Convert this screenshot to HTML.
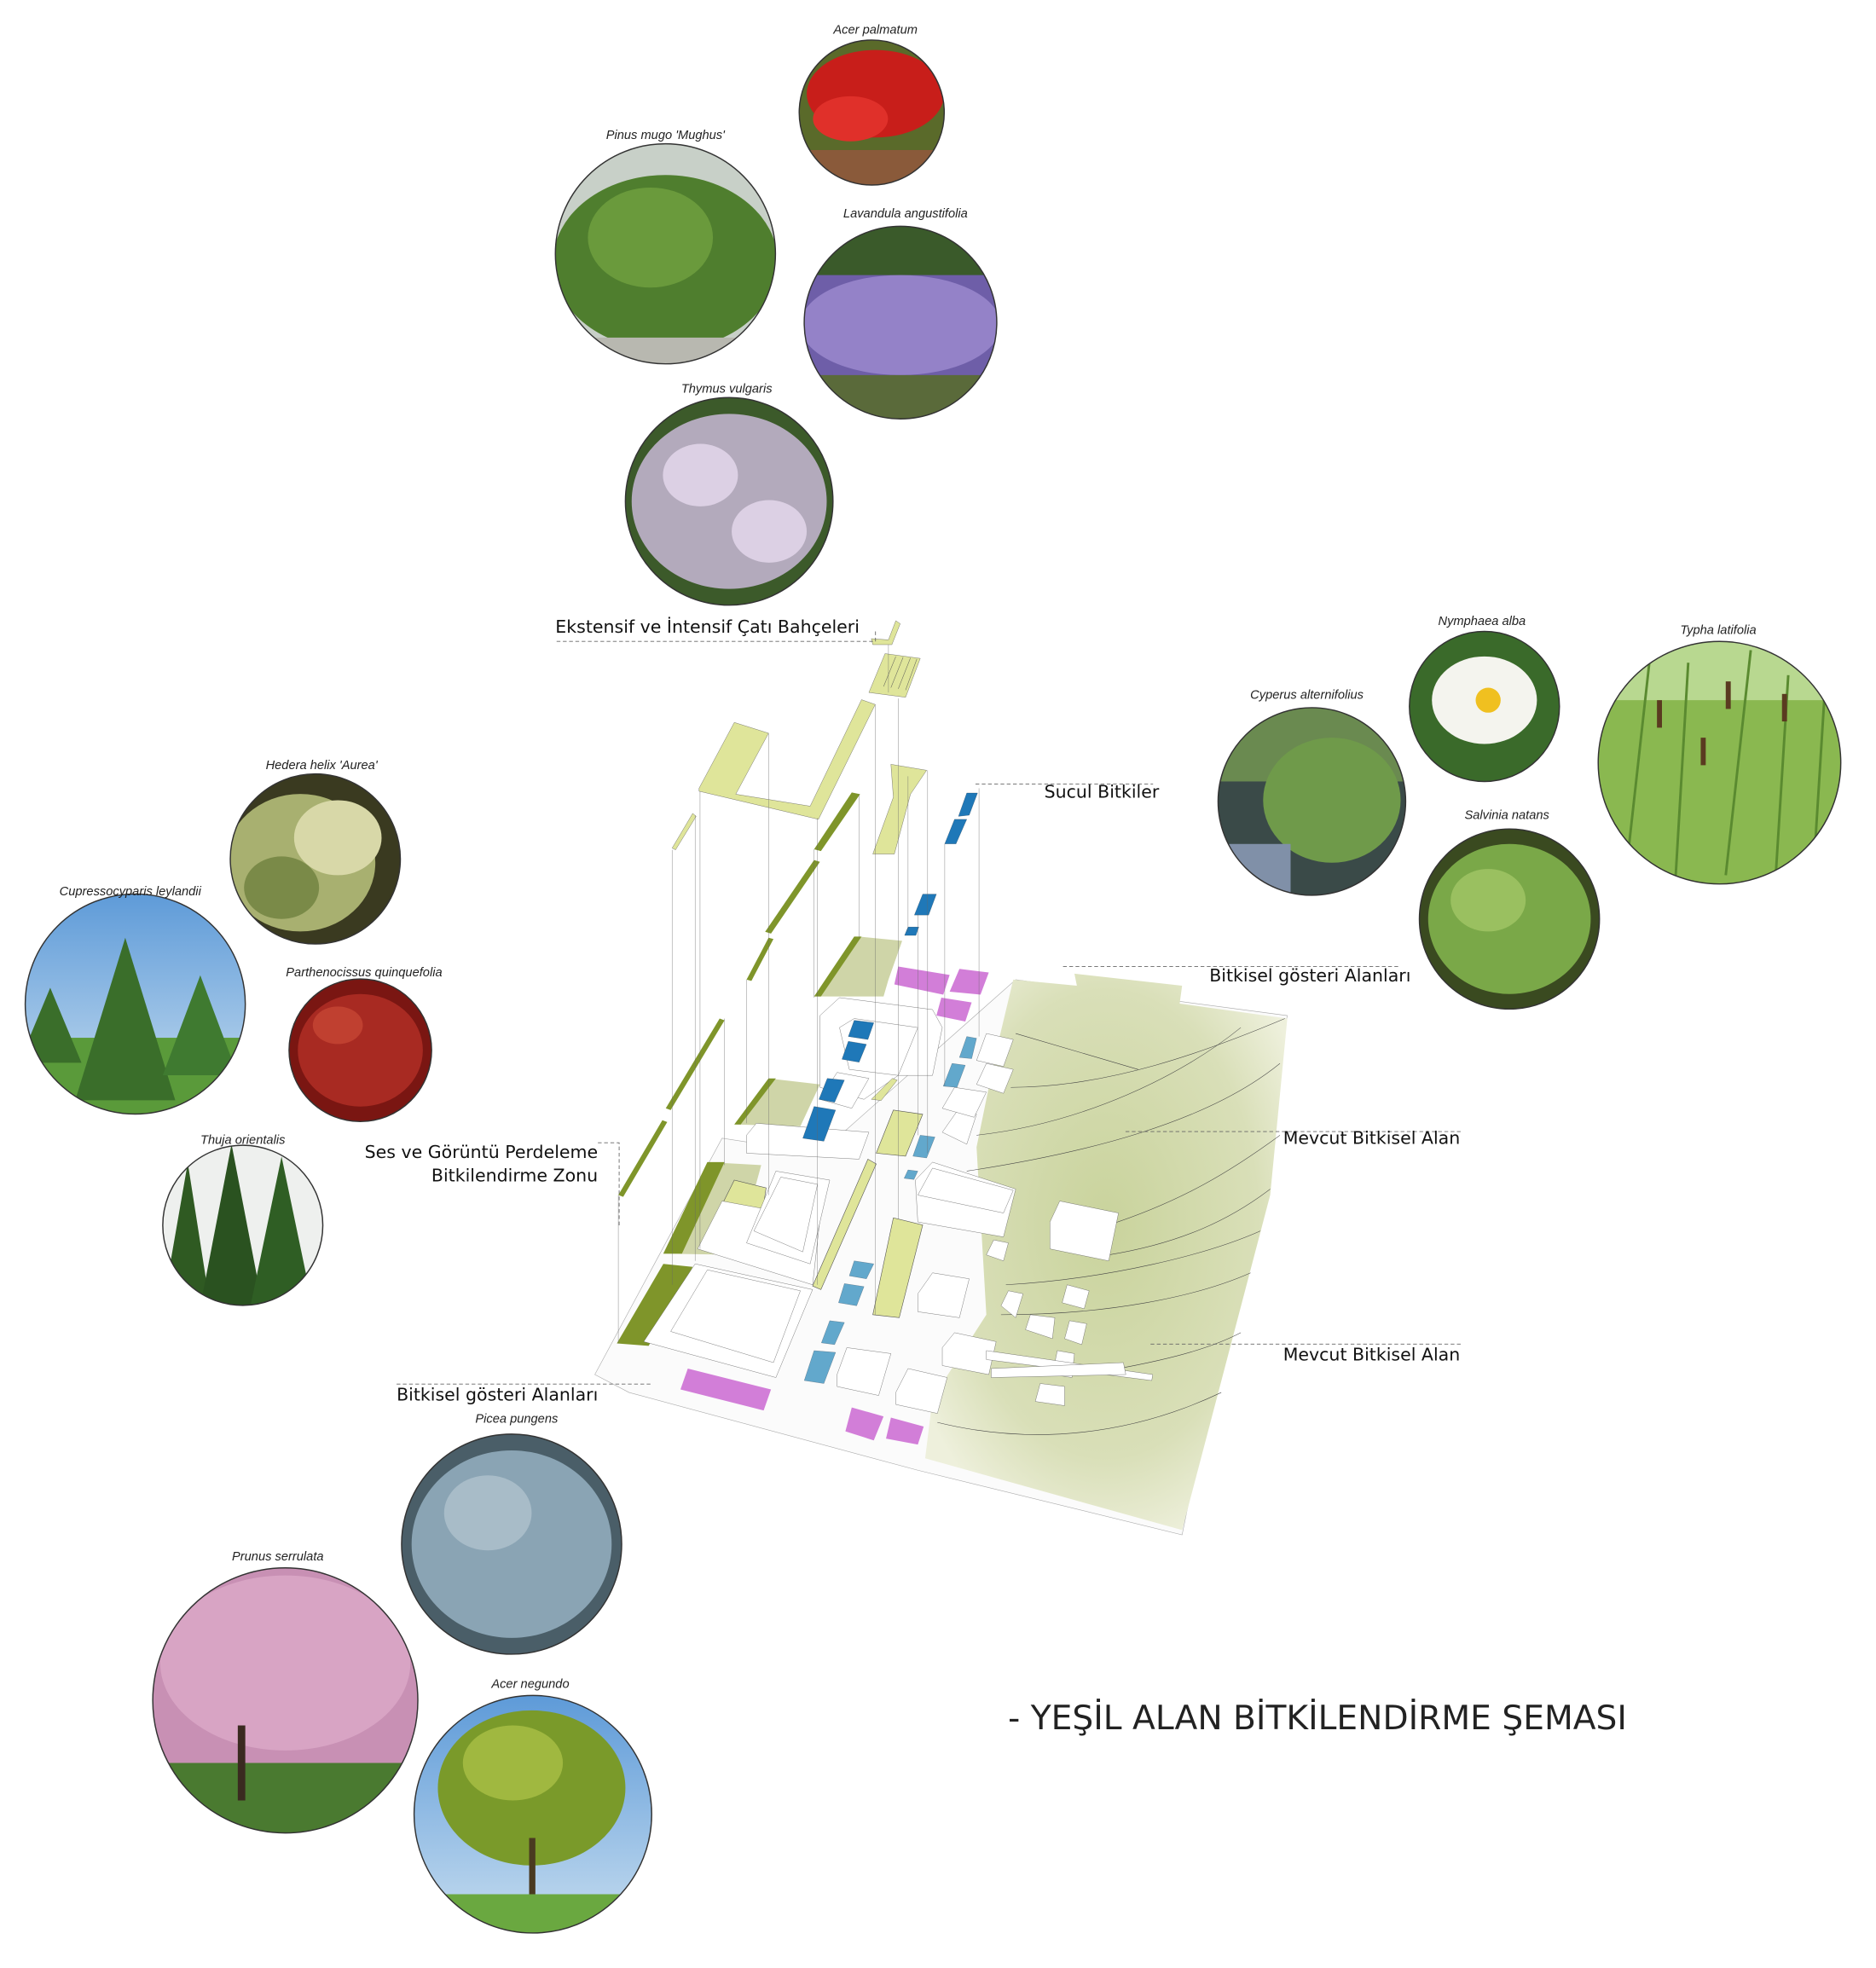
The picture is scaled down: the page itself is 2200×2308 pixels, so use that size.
<!DOCTYPE html>
<html><head><meta charset="utf-8"><style>
html,body{margin:0;padding:0;background:#fff}
svg{display:block}
.lbl{font-family:"Liberation Sans",sans-serif;font-style:italic;font-size:10px;fill:#222;text-anchor:middle}
.big{font-family:"DejaVu Sans","Liberation Sans",sans-serif;font-size:14px;fill:#111}
.d{stroke:#666;stroke-width:0.6;stroke-dasharray:3 2;fill:none}
.w{fill:#fff;stroke:#555;stroke-width:0.6}
</style></head><body>
<svg width="2200" height="2308" viewBox="0 0 1500 1574" xmlns="http://www.w3.org/2000/svg">
<defs>
<radialGradient id="gg" cx="0.5" cy="0.45" r="0.6"><stop offset="0" stop-color="#c9d39c"/><stop offset="0.7" stop-color="#d9dfb8"/><stop offset="1" stop-color="#eef0dc"/></radialGradient>
<linearGradient id="sky" x1="0" y1="0" x2="0" y2="1"><stop offset="0" stop-color="#5d9ad8"/><stop offset="1" stop-color="#c8def0"/></linearGradient>
<clipPath id="c1"><circle cx="697" cy="90" r="58"/></clipPath>
<clipPath id="c2"><circle cx="532" cy="203" r="88"/></clipPath>
<clipPath id="c3"><circle cx="720" cy="258" r="77"/></clipPath>
<clipPath id="c4"><circle cx="583" cy="401" r="83"/></clipPath>
<clipPath id="c5"><circle cx="252" cy="687" r="68"/></clipPath>
<clipPath id="c6"><circle cx="108" cy="803" r="88"/></clipPath>
<clipPath id="c7"><circle cx="288" cy="840" r="57"/></clipPath>
<clipPath id="c8"><circle cx="194" cy="980" r="64"/></clipPath>
<clipPath id="c9"><circle cx="1049" cy="641" r="75"/></clipPath>
<clipPath id="c10"><circle cx="1187" cy="565" r="60"/></clipPath>
<clipPath id="c11"><circle cx="1375" cy="610" r="97"/></clipPath>
<clipPath id="c12"><circle cx="1207" cy="735" r="72"/></clipPath>
<clipPath id="c13"><circle cx="409" cy="1235" r="88"/></clipPath>
<clipPath id="c14"><circle cx="228" cy="1360" r="106"/></clipPath>
<clipPath id="c15"><circle cx="426" cy="1451" r="95"/></clipPath>
</defs>

<!-- Plant circles -->
<g clip-path="url(#c1)"><rect x="630" y="30" width="140" height="130" fill="#5a6a2a"/><ellipse cx="700" cy="75" rx="55" ry="35" fill="#c81e1a"/><ellipse cx="680" cy="95" rx="30" ry="18" fill="#e0302a"/><rect x="630" y="120" width="140" height="30" fill="#8a5a3a"/></g>
<g clip-path="url(#c2)"><rect x="440" y="110" width="190" height="190" fill="#c8d0c8"/><ellipse cx="532" cy="210" rx="90" ry="70" fill="#4f7e2e"/><ellipse cx="520" cy="190" rx="50" ry="40" fill="#6a9a3c"/><rect x="440" y="270" width="190" height="30" fill="#b8b8b0"/></g>
<g clip-path="url(#c3)"><rect x="640" y="180" width="160" height="160" fill="#6e5ea8"/><rect x="640" y="180" width="160" height="40" fill="#3a5a2a"/><ellipse cx="720" cy="260" rx="80" ry="40" fill="#9482c8"/><rect x="640" y="300" width="160" height="40" fill="#5a6a3a"/></g>
<g clip-path="url(#c4)"><rect x="495" y="315" width="175" height="175" fill="#3c5a2a"/><ellipse cx="583" cy="401" rx="78" ry="70" fill="#c8b8d6" opacity="0.85"/><ellipse cx="560" cy="380" rx="30" ry="25" fill="#dcd0e4"/><ellipse cx="615" cy="425" rx="30" ry="25" fill="#dcd0e4"/></g>
<g clip-path="url(#c5)"><rect x="180" y="615" width="145" height="145" fill="#3a3a20"/><ellipse cx="240" cy="690" rx="60" ry="55" fill="#a8b070"/><ellipse cx="270" cy="670" rx="35" ry="30" fill="#d8d8a8"/><ellipse cx="225" cy="710" rx="30" ry="25" fill="#7a8a48"/></g>
<g clip-path="url(#c6)"><rect x="18" y="713" width="180" height="180" fill="url(#sky)"/><rect x="18" y="830" width="180" height="70" fill="#5a9a3a"/><polygon points="100,750 140,880 60,880" fill="#3a6e2a"/><polygon points="40,790 65,850 15,850" fill="#3a6e2a"/><polygon points="160,780 190,860 130,860" fill="#3f7a30"/></g>
<g clip-path="url(#c7)"><rect x="228" y="780" width="120" height="120" fill="#7a1612"/><ellipse cx="288" cy="840" rx="50" ry="45" fill="#a82a22"/><ellipse cx="270" cy="820" rx="20" ry="15" fill="#c04030"/></g>
<g clip-path="url(#c8)"><rect x="128" y="914" width="132" height="132" fill="#eef0ee"/><polygon points="150,930 168,1045 130,1045" fill="#2f5a22"/><polygon points="185,915 210,1045 160,1045" fill="#2a5220"/><polygon points="225,925 250,1045 200,1045" fill="#2f5e24"/></g>
<g clip-path="url(#c9)"><rect x="972" y="565" width="155" height="155" fill="#3a4a48"/><rect x="972" y="565" width="155" height="60" fill="#6a8a50"/><ellipse cx="1065" cy="640" rx="55" ry="50" fill="#6f9a4a"/><rect x="972" y="675" width="60" height="45" fill="#8090a8"/></g>
<g clip-path="url(#c10)"><rect x="1125" y="503" width="125" height="125" fill="#3a6a2a"/><ellipse cx="1187" cy="560" rx="42" ry="35" fill="#f4f4ee"/><circle cx="1190" cy="560" r="10" fill="#f0c020"/></g>
<g clip-path="url(#c11)"><rect x="1275" y="510" width="200" height="200" fill="#8ab850"/><rect x="1275" y="510" width="200" height="50" fill="#b8d890"/><g stroke="#5a8a30" stroke-width="2"><line x1="1300" y1="700" x2="1320" y2="520"/><line x1="1340" y1="700" x2="1350" y2="530"/><line x1="1380" y1="700" x2="1400" y2="520"/><line x1="1420" y1="700" x2="1430" y2="540"/><line x1="1450" y1="700" x2="1460" y2="540"/></g><g fill="#5a3a20"><rect x="1325" y="560" width="4" height="22"/><rect x="1380" y="545" width="4" height="22"/><rect x="1425" y="555" width="4" height="22"/><rect x="1360" y="590" width="4" height="22"/></g></g>
<g clip-path="url(#c12)"><rect x="1133" y="662" width="150" height="150" fill="#3a4a20"/><ellipse cx="1207" cy="735" rx="65" ry="60" fill="#7aa848"/><ellipse cx="1190" cy="720" rx="30" ry="25" fill="#9ac060"/></g>
<g clip-path="url(#c13)"><rect x="320" y="1145" width="180" height="180" fill="#4a5e68"/><ellipse cx="409" cy="1235" rx="80" ry="75" fill="#8aa4b4"/><ellipse cx="390" cy="1210" rx="35" ry="30" fill="#a8bcc8"/></g>
<g clip-path="url(#c14)"><rect x="120" y="1252" width="215" height="215" fill="#c890b4"/><ellipse cx="228" cy="1330" rx="100" ry="70" fill="#d8a4c4"/><rect x="120" y="1410" width="215" height="60" fill="#4a7a30"/><rect x="190" y="1380" width="6" height="60" fill="#3a2a20"/></g>
<g clip-path="url(#c15)"><rect x="330" y="1355" width="195" height="195" fill="url(#sky)"/><ellipse cx="425" cy="1430" rx="75" ry="62" fill="#7a9a2a"/><ellipse cx="410" cy="1410" rx="40" ry="30" fill="#a0b840"/><rect x="423" y="1470" width="5" height="60" fill="#4a3a20"/><rect x="330" y="1515" width="195" height="40" fill="#6aa840"/></g>

<g fill="none" stroke="#333" stroke-width="1">
<circle cx="697" cy="90" r="58"/><circle cx="532" cy="203" r="88"/><circle cx="720" cy="258" r="77"/><circle cx="583" cy="401" r="83"/>
<circle cx="252" cy="687" r="68"/><circle cx="108" cy="803" r="88"/><circle cx="288" cy="840" r="57"/><circle cx="194" cy="980" r="64"/>
<circle cx="1049" cy="641" r="75"/><circle cx="1187" cy="565" r="60"/><circle cx="1375" cy="610" r="97"/><circle cx="1207" cy="735" r="72"/>
<circle cx="409" cy="1235" r="88"/><circle cx="228" cy="1360" r="106"/><circle cx="426" cy="1451" r="95"/>
</g>

<text class="lbl" x="700" y="27">Acer palmatum</text>
<text class="lbl" x="532" y="111">Pinus mugo 'Mughus'</text>
<text class="lbl" x="724" y="174">Lavandula angustifolia</text>
<text class="lbl" x="581" y="314">Thymus vulgaris</text>
<text class="lbl" x="257" y="615">Hedera helix 'Aurea'</text>
<text class="lbl" x="104" y="716">Cupressocyparis leylandii</text>
<text class="lbl" x="291" y="781">Parthenocissus quinquefolia</text>
<text class="lbl" x="194" y="915">Thuja orientalis</text>
<text class="lbl" x="1045" y="559">Cyperus alternifolius</text>
<text class="lbl" x="1185" y="500">Nymphaea alba</text>
<text class="lbl" x="1374" y="507">Typha latifolia</text>
<text class="lbl" x="1205" y="655">Salvinia natans</text>
<text class="lbl" x="413" y="1138">Picea pungens</text>
<text class="lbl" x="222" y="1248">Prunus serrulata</text>
<text class="lbl" x="424" y="1350">Acer negundo</text>

<!-- Diagram in zoom coordinates -->
<g transform="translate(436.4,477.3) scale(0.3914,0.4785)">
<g style="vector-effect:non-scaling-stroke">
<!-- base platform / roads -->
<polygon points="100,1300 360,905 560,930 960,640 1515,700 1300,1568 760,1460 170,1330" fill="#fbfbfb" stroke="#aaa" stroke-width="0.6" vector-effect="non-scaling-stroke"/>
<polygon points="955,640 1085,650 1080,630 1300,650 1295,680 1515,705 1480,1000 1300,1560 775,1440 790,1340 900,1200 880,920 920,760" fill="url(#gg)"/>
<g fill="none" stroke="#444" stroke-width="0.8" vector-effect="non-scaling-stroke">
<path d="M950,820 C1150,820 1350,760 1510,705"/>
<path d="M880,900 C1100,880 1300,800 1420,720"/>
<path d="M860,960 C1100,930 1350,880 1500,780"/>
<path d="M1150,1050 C1300,1010 1400,960 1500,900"/>
<path d="M1150,1100 C1300,1080 1400,1040 1480,990"/>
<path d="M940,1150 C1150,1140 1350,1100 1460,1060"/>
<path d="M930,1200 C1150,1200 1330,1170 1440,1130"/>
<path d="M1100,1300 C1250,1280 1350,1260 1420,1230"/>
<path d="M800,1380 C1000,1420 1200,1400 1380,1330"/>
<path d="M960,730 L1210,790"/>
</g>
<!-- left ground greens -->
<polygon points="555,668 640,568 728,575 700,640 690,668" fill="#cfd5a8"/>
<polygon points="548,668 630,568 645,568 562,668" fill="#7f952a"/>
<polygon points="385,882 455,805 560,815 520,885" fill="#cfd5a8"/>
<polygon points="385,882 455,805 470,805 398,882" fill="#7f952a"/>
<polygon points="240,1098 330,945 440,950 390,1100" fill="#cfd5a8"/>
<polygon points="240,1098 330,945 365,945 278,1098" fill="#7f952a"/>
<polygon points="145,1248 240,1115 300,1120 210,1252" fill="#7f952a"/>
<polygon points="315,1090 385,975 450,988 430,1100" fill="#dfe59a" stroke="#555" stroke-width="0.6" vector-effect="non-scaling-stroke"/>
<polygon points="545,1152 658,940 675,948 562,1158" fill="#dfe59a" stroke="#555" stroke-width="0.6" vector-effect="non-scaling-stroke"/>
<polygon points="668,1200 710,1038 770,1050 722,1205" fill="#dfe59a" stroke="#555" stroke-width="0.6" vector-effect="non-scaling-stroke"/>
<polygon points="675,930 710,858 770,865 735,935" fill="#dfe59a" stroke="#555" stroke-width="0.6" vector-effect="non-scaling-stroke"/>
<!-- buildings -->
<g class="w" vector-effect="non-scaling-stroke">
<polygon points="200,1245 305,1115 545,1158 470,1305"/>
<polygon points="255,1228 330,1125 520,1160 465,1280"/>
<polygon points="310,1090 360,1010 560,1040 545,1150"/>
<polygon points="410,1080 470,960 580,975 540,1115"/>
<polygon points="425,1060 480,970 555,982 525,1095"/>
<polygon points="560,700 600,670 790,690 810,720 790,800 720,800 650,840 560,820"/>
<polygon points="600,720 630,705 760,720 720,800 620,790"/>
<polygon points="560,840 595,795 660,805 625,855"/>
<polygon points="410,900 430,880 660,895 640,940 410,930"/>
<polygon points="755,975 790,945 960,990 935,1070 760,1045"/>
<polygon points="760,1000 790,955 955,992 935,1030"/>
<polygon points="1030,1045 1050,1010 1170,1030 1150,1110 1030,1090"/>
<polygon points="760,1165 790,1130 865,1140 845,1205 760,1195"/>
<polygon points="810,1255 835,1230 920,1245 905,1300 810,1285"/>
<polygon points="595,1300 615,1255 705,1265 680,1335 595,1320"/>
<polygon points="715,1330 740,1290 820,1305 800,1365 715,1350"/>
<polygon points="880,815 900,780 955,790 935,830"/>
<polygon points="880,775 900,730 955,740 935,785"/>
<polygon points="810,895 840,860 880,865 860,915"/>
<polygon points="810,855 835,820 900,828 875,870"/>
<polygon points="930,1185 945,1160 975,1165 960,1205"/>
<polygon points="1055,1180 1065,1150 1110,1160 1100,1190"/>
<polygon points="1060,1240 1070,1210 1105,1215 1095,1250"/>
<polygon points="980,1225 990,1200 1040,1205 1035,1240"/>
<polygon points="1000,1345 1010,1315 1060,1320 1060,1352"/>
<polygon points="1035,1300 1045,1260 1080,1265 1075,1305"/>
<polygon points="900,1100 915,1075 945,1080 935,1110"/>
<polygon points="900,1260 1240,1300 1238,1310 900,1275"/>
<polygon points="910,1290 1180,1280 1185,1300 910,1305"/>
</g>
<!-- pink -->
<g fill="#d27ed8">
<polygon points="720,618 825,632 812,665 712,648"/>
<polygon points="845,622 905,628 888,665 825,660"/>
<polygon points="808,670 870,678 857,710 798,700"/>
<polygon points="290,1290 460,1325 445,1360 275,1325"/>
<polygon points="625,1355 690,1370 670,1410 612,1395"/>
<polygon points="705,1372 772,1387 760,1417 695,1407"/>
</g>
<!-- blue -->
<g fill="#1f78b8" stroke="#234" stroke-width="0.4" vector-effect="non-scaling-stroke">
<polygon points="860,328 882,328 865,365 843,367"/>
<polygon points="835,372 860,372 838,413 815,413"/>
<polygon points="770,497 798,497 782,532 753,532"/>
<polygon points="740,552 762,552 756,566 733,566"/>
<polygon points="630,708 670,712 658,740 618,735"/>
<polygon points="618,743 655,748 640,778 605,773"/>
<polygon points="575,805 610,808 590,845 558,840"/>
<polygon points="548,852 592,858 568,910 525,905"/>
</g>
<g fill="#62a8cc" stroke="#345" stroke-width="0.4" vector-effect="non-scaling-stroke">
<polygon points="860,735 880,738 870,772 845,770"/>
<polygon points="830,780 857,783 840,820 812,818"/>
<polygon points="765,900 795,903 778,938 750,935"/>
<polygon points="740,958 760,960 752,974 732,972"/>
<polygon points="630,1110 670,1115 655,1140 620,1135"/>
<polygon points="610,1148 650,1153 635,1185 598,1180"/>
<polygon points="580,1210 610,1213 590,1250 563,1247"/>
<polygon points="548,1260 592,1263 568,1315 528,1310"/>
</g>
<!-- exploded upper layers -->
<g fill="#dfe59a" stroke="#555" stroke-width="0.6" vector-effect="non-scaling-stroke">
<polygon points="313,320 385,210 455,228 388,330 540,350 645,172 673,180 557,372 313,325"/>
<polygon points="258,420 300,362 307,367 265,423"/>
<polygon points="660,160 693,95 765,103 735,168"/>
<polygon points="665,70 700,72 715,40 724,45 707,80 668,80"/>
<polygon points="668,430 710,335 705,280 778,290 745,330 712,430"/>
<polygon points="665,840 708,805 718,808 685,842"/>
</g>
<g stroke="#555" stroke-width="0.8" vector-effect="non-scaling-stroke">
<line x1="690" y1="150" x2="715" y2="100"/><line x1="705" y1="152" x2="730" y2="101"/><line x1="720" y1="154" x2="745" y2="102"/><line x1="735" y1="156" x2="758" y2="104"/>
</g>
<g fill="#7f952a">
<polygon points="548,422 625,327 642,330 562,425"/>
<polygon points="448,560 548,440 560,443 460,563"/>
<polygon points="410,640 455,570 465,572 420,642"/>
<polygon points="245,855 355,705 365,708 255,858"/>
<polygon points="148,1000 238,875 248,878 158,1003"/>
</g>
<!-- vertical connectors -->
<g stroke="#666" stroke-width="0.6" fill="none" vector-effect="non-scaling-stroke">
<line x1="258" y1="423" x2="258" y2="1150"/>
<line x1="305" y1="365" x2="305" y2="1110"/>
<line x1="315" y1="325" x2="315" y2="1090"/>
<line x1="365" y1="705" x2="365" y2="950"/>
<line x1="410" y1="640" x2="410" y2="880"/>
<line x1="148" y1="1000" x2="148" y2="1248"/>
<line x1="455" y1="228" x2="455" y2="1000"/>
<line x1="548" y1="422" x2="548" y2="670"/>
<line x1="555" y1="370" x2="555" y2="1150"/>
<line x1="640" y1="330" x2="640" y2="570"/>
<line x1="673" y1="180" x2="673" y2="1200"/>
<line x1="700" y1="80" x2="700" y2="160"/>
<line x1="720" y1="170" x2="720" y2="1040"/>
<line x1="740" y1="300" x2="740" y2="560"/>
<line x1="760" y1="530" x2="760" y2="900"/>
<line x1="780" y1="290" x2="780" y2="930"/>
<line x1="815" y1="413" x2="815" y2="818"/>
<line x1="885" y1="320" x2="885" y2="735"/>
</g>
</g>
</g>

<!-- leader lines -->
<g class="d">
<polyline points="445,513 700,513 700,505"/>
<polyline points="780,627 922,627"/>
<polyline points="850,773 1120,773"/>
<polyline points="900,905 1170,905"/>
<polyline points="478,914 495,914 495,980"/>
<polyline points="920,1075 1170,1075"/>
<polyline points="317,1107 520,1107"/>
</g>

<text class="big" x="444" y="506">Ekstensif ve İntensif Çatı Bahçeleri</text>
<text class="big" x="835" y="638">Sucul Bitkiler</text>
<text class="big" x="967" y="785">Bitkisel gösteri Alanları</text>
<text class="big" x="1026" y="915">Mevcut Bitkisel Alan</text>
<text class="big" x="478" y="926" text-anchor="end">Ses ve Görüntü Perdeleme</text>
<text class="big" x="478" y="945" text-anchor="end">Bitkilendirme Zonu</text>
<text class="big" x="1026" y="1088">Mevcut Bitkisel Alan</text>
<text class="big" x="317" y="1120">Bitkisel gösteri Alanları</text>

<text x="806" y="1383" font-family="DejaVu Sans, Liberation Sans, sans-serif" font-size="27" fill="#222" textLength="495" lengthAdjust="spacingAndGlyphs">- YEŞİL ALAN BİTKİLENDİRME ŞEMASI</text>
</svg>
</body></html>
